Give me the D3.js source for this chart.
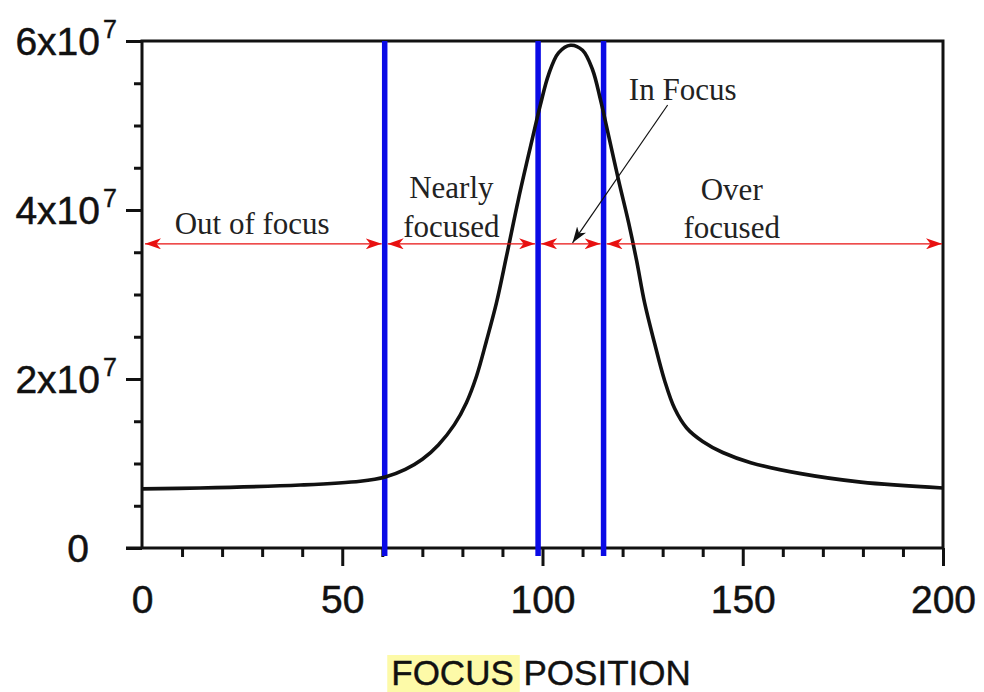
<!DOCTYPE html>
<html>
<head>
<meta charset="utf-8">
<script src="https://cdn.jsdelivr.net/npm/d3@7"></script>
<style>
  body { margin: 0; background: #fff; }
  svg { display: block; }
</style>
</head>
<body>
<svg id="chart" width="984" height="692"></svg>
<script>
// Focus response curve: image sharpness measure vs. focus position
const focusPositions = [0, 14.5, 39.5, 54.5, 60.75, 65.75, 70, 74, 78, 81, 83.5, 86, 88.5, 91,
  94, 97, 99.5, 101.5, 104, 107, 110, 112.5, 114.5, 116.5, 119, 121.5, 123.5,
  125.5, 128, 130.5, 133, 136, 140, 145, 152, 164.5, 179.5, 200];
const sharpness = [7.0e6, 7.1e6, 7.45e6, 7.9e6, 8.4e6, 9.3e6, 10.5e6, 12.2e6, 14.6e6, 17.2e6, 20.3e6, 24.5e6, 29.0e6, 34.5e6,
  41.3e6, 47.5e6, 52.5e6, 56.0e6, 58.6e6, 59.5e6, 58.9e6, 56.6e6, 53.0e6, 48.8e6, 43.5e6, 38.5e6, 34.0e6,
  29.0e6, 24.2e6, 19.8e6, 16.5e6, 14.2e6, 12.6e6, 11.3e6, 10.1e6, 8.8e6, 7.8e6, 7.1e6];

// Zone boundaries along the focus axis and the blue dividers between zones
const zoneEdges = [0, 60.6, 98.9, 115.25, 200];
const dividers = [60.6, 98.9, 115.25];
const zoneArrowLevel = 36e6;

// Zone names (lines) for the out-of-focus, nearly focused and over focused zones
const zoneNames = [["Out of focus"], ["Nearly", "focused"], ["Over", "focused"]];
const zoneNameCenters = [27.5, 77.25, 147.25];
const calloutText = "In Focus";

// Axis ticks
const xMajorTicks = [0, 50, 100, 150, 200];
const xTickLabels = ["0", "50", "100", "150", "200"];
const xMinorTicks = [10, 20, 30, 40, 60, 70, 80, 90, 110, 120, 130, 140, 160, 170, 180, 190];
const yMajorTicks = [0, 2e7, 4e7, 6e7];
const yTickBases = ["0", "2x10", "4x10", "6x10"];
const yTickExponents = ["", "7", "7", "7"];
const yMinorTicks = [0.5e7, 1e7, 1.5e7, 2.5e7, 3e7, 3.5e7, 4.5e7, 5e7, 5.5e7];

const svg = d3.select("#chart");
const x = d3.scaleLinear().domain([0, 200]).range([142, 943]);
const y = d3.scaleLinear().domain([0, 6e7]).range([548, 41]);

const sans = "'Liberation Sans', Arial, Helvetica, sans-serif";
const serif = "'Liberation Serif', 'Times New Roman', serif";
const ink = "#111";

// Bottom axis: minor and major ticks
const gx = svg.append("g").attr("transform", `translate(0,${y(0)})`);
gx.call(d3.axisBottom(x).tickValues(xMinorTicks).tickSize(9).tickFormat(""));
gx.call(g => g.select(".domain").remove());
const gxMaj = svg.append("g").attr("transform", `translate(0,${y(0)})`);
gxMaj.call(d3.axisBottom(x).tickValues(xMajorTicks).tickSize(18)
  .tickFormat((d, i) => xTickLabels[i]));
gxMaj.call(g => g.select(".domain").remove());
gxMaj.selectAll(".tick").filter(d => d === 0).select("line").remove();
gxMaj.selectAll(".tick text")
  .attr("y", 65).attr("dy", null)
  .attr("font-family", sans).attr("font-size", 39).attr("fill", ink)
  .attr("stroke", ink).attr("stroke-width", 0.5);
[gx, gxMaj].forEach(g => g.selectAll(".tick line").attr("stroke", ink).attr("stroke-width", 3));

// Left axis: minor and major ticks
const gy = svg.append("g").attr("transform", `translate(${x(0)},0)`);
gy.call(d3.axisLeft(y).tickValues(yMinorTicks).tickSize(8).tickFormat(""));
gy.call(g => g.select(".domain").remove());
const gyMaj = svg.append("g").attr("transform", `translate(${x(0)},0)`);
gyMaj.call(d3.axisLeft(y).tickValues(yMajorTicks).tickSize(16).tickFormat(""));
gyMaj.call(g => g.select(".domain").remove());
[gy, gyMaj].forEach(g => g.selectAll(".tick line").attr("stroke", ink).attr("stroke-width", 3));

// Y tick labels with superscript exponents
yMajorTicks.forEach((v, i) => {
  const base = yTickBases[i], exp = yTickExponents[i];
  const lbl = svg.append("text")
    .attr("y", y(v) + 14)
    .attr("font-family", sans).attr("font-size", 39).attr("fill", ink)
    .attr("stroke", ink).attr("stroke-width", 0.5)
    .text(base);
  if (exp) {
    lbl.attr("x", 100).attr("text-anchor", "end");
    svg.append("text")
      .attr("x", 103).attr("y", y(v) - 3)
      .attr("text-anchor", "start")
      .attr("font-family", sans).attr("font-size", 25).attr("fill", ink)
      .attr("stroke", ink).attr("stroke-width", 0.4)
      .text(exp);
  } else {
    lbl.attr("x", 78).attr("text-anchor", "middle");
  }
});

// Plot frame
svg.append("path")
  .attr("d", `M${x(0) - 16},${y(0)} H${x(200)} V${y(6e7)} H${x(0)} V${y(0)}`)
  .attr("fill", "none").attr("stroke", ink).attr("stroke-width", 3);

// Blue zone dividers
svg.selectAll("line.divider").data(dividers).join("line")
  .attr("class", "divider")
  .attr("x1", d => x(d)).attr("x2", d => x(d))
  .attr("y1", y(6e7)).attr("y2", y(0) + 8)
  .attr("stroke", "#0a0ae6").attr("stroke-width", 5.5);

// Response curve
const line = d3.line()
  .x((d, i) => x(focusPositions[i]))
  .y(d => y(d))
  .curve(d3.curveCatmullRom.alpha(0.5));
svg.append("path")
  .datum(sharpness)
  .attr("d", line)
  .attr("fill", "none").attr("stroke", ink).attr("stroke-width", 3.6)
  .attr("stroke-linejoin", "round");

// Arrowhead markers
const defs = svg.append("defs");
function arrowMarker(id, color, len, half) {
  defs.append("marker")
    .attr("id", id)
    .attr("viewBox", `${-len} ${-half} ${len} ${half * 2}`)
    .attr("refX", 0).attr("refY", 0)
    .attr("markerUnits", "userSpaceOnUse")
    .attr("markerWidth", len).attr("markerHeight", half * 2)
    .attr("orient", "auto-start-reverse")
    .append("path")
    .attr("d", `M0,0 L${-len},${-half} L${-len * 0.72},0 L${-len},${half} Z`)
    .attr("fill", color);
}
arrowMarker("redHead", "#e81010", 16, 5.5);
arrowMarker("blackHead", ink, 16, 5.5);

// Double-headed zone arrows
const ay = y(zoneArrowLevel);
const zones = d3.pairs(zoneEdges);
svg.selectAll("line.zone").data(zones).join("line")
  .attr("class", "zone")
  .attr("x1", d => x(d[0]) + 3).attr("x2", d => x(d[1]) - (d[1] === 200 ? 1 : 3))
  .attr("y1", ay).attr("y2", ay)
  .attr("stroke", "#e81010").attr("stroke-width", 1.3)
  .attr("marker-start", "url(#redHead)")
  .attr("marker-end", "url(#redHead)");

// Zone names
const nameOffsets = [[-10], [-46, -7], [-44, -6]];
zoneNames.forEach((lines, i) => {
  lines.forEach((t, j) => {
    svg.append("text")
      .attr("x", x(zoneNameCenters[i])).attr("y", ay + nameOffsets[i][j])
      .attr("text-anchor", "middle")
      .attr("font-family", serif).attr("font-size", 31).attr("fill", "#222")
      .text(t);
  });
});

// "In Focus" callout
svg.append("text")
  .attr("x", x(135)).attr("y", 100)
  .attr("text-anchor", "middle")
  .attr("font-family", serif).attr("font-size", 31).attr("fill", "#222")
  .text(calloutText);
svg.append("line")
  .attr("x1", x(131.25)).attr("y1", 105)
  .attr("x2", x(107.5)).attr("y2", ay - 1)
  .attr("stroke", ink).attr("stroke-width", 1.2)
  .attr("marker-end", "url(#blackHead)");

// Axis title with highlighted first word
const title = svg.append("text")
  .attr("x", 541).attr("y", 685)
  .attr("text-anchor", "middle")
  .attr("font-family", sans).attr("font-size", 35).attr("fill", ink)
  .attr("stroke", ink).attr("stroke-width", 0.4);
title.append("tspan").text("FOCUS");
title.append("tspan").text(" POSITION");
const tn = title.node();
const hx0 = tn.getStartPositionOfChar(0).x;
const hx1 = tn.getEndPositionOfChar(4).x;
svg.insert("rect", () => tn)
  .attr("x", hx0 - 4).attr("y", 655)
  .attr("width", hx1 - hx0 + 10).attr("height", 37)
  .attr("fill", "#fdfaa8");
</script>
</body>
</html>
